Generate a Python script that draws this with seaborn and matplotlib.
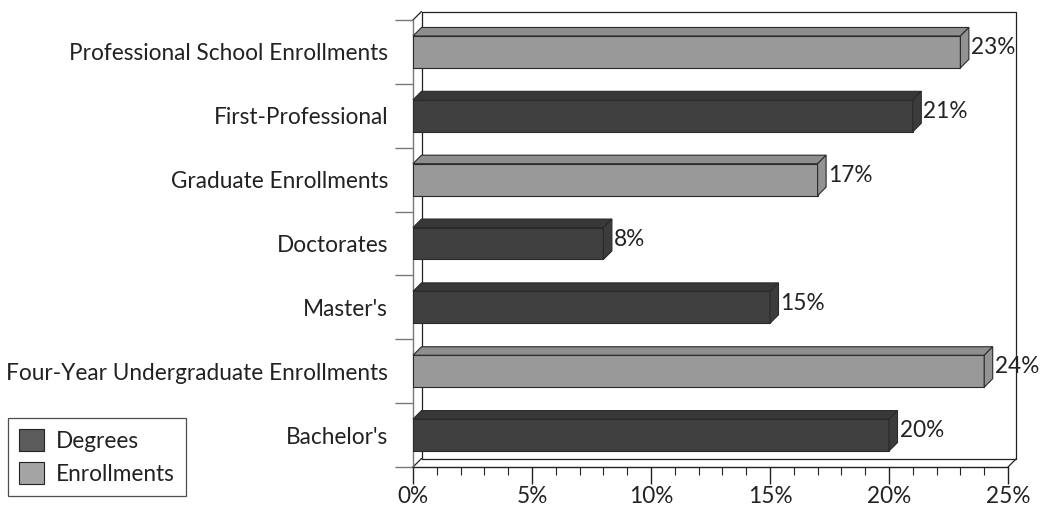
import matplotlib
matplotlib.use("Agg")
import matplotlib.pyplot as plt
from matplotlib.patches import Polygon, Patch
from matplotlib.ticker import MultipleLocator, FuncFormatter
import seaborn as sns
import pandas as pd

categories = ["Professional School Enrollments", "First-Professional", "Graduate Enrollments",
              "Doctorates", "Master's", "Four-Year Undergraduate Enrollments", "Bachelor's"]
values = [23, 21, 17, 8, 15, 24, 20]
kinds = ["Enrollments", "Degrees", "Enrollments", "Degrees", "Degrees", "Enrollments", "Degrees"]
legend_labels = ["Degrees", "Enrollments"]
x_ticks = [0, 5, 10, 15, 20, 25]

front = {"Degrees": "#404040", "Enrollments": "#999999"}
top_c = {"Degrees": "#383838", "Enrollments": "#8e8e8e"}
side_c = {"Degrees": "#3c3c3c", "Enrollments": "#939393"}
legend_c = {"Degrees": "#5c5c5c", "Enrollments": "#a4a4a4"}

sns.set_theme(style="white")
plt.rcParams["font.family"] = ["Lato", "DejaVu Sans"]
FS = 16.3

W, H = 1041, 508
fig = plt.figure(figsize=(W / 100, H / 100), dpi=100)
L, R, B, T = 413 / W, 1008 / W, 1 - 467 / H, 1 - 20 / H
ax = fig.add_axes([L, B, R - L, T - B])

df = pd.DataFrame({"cat": categories, "val": values, "kind": kinds})
sns.barplot(data=df, x="val", y="cat", hue="kind", order=categories, palette=front,
            dodge=False, width=0.5, edgecolor="#2a2a2a", linewidth=0.8, saturation=1,
            legend=False, ax=ax, zorder=3)

xmax = 25
n = len(categories)
ax.set_xlim(0, xmax)
ax.set_ylim(n - 0.5, -0.5)

ax_w = (R - L) * W
ax_h = (T - B) * H
dpx = 8.5
dx = dpx * xmax / ax_w
dy = dpx * n / ax_h

kind_of = dict(zip(categories, kinds))
bars = [p for p in ax.patches if p.get_width() > 0]
for p in bars:
    x0 = p.get_x()
    x1 = x0 + p.get_width()
    yt = p.get_y()
    yb = yt + p.get_height()
    ci = int(round(yt + p.get_height() / 2))
    k = kind_of[categories[ci]]
    ax.add_patch(Polygon([(x0, yt), (x1, yt), (x1 + dx, yt - dy), (x0 + dx, yt - dy)],
                         closed=True, facecolor=top_c[k], edgecolor="#2a2a2a", lw=0.8,
                         zorder=3, clip_on=False))
    ax.add_patch(Polygon([(x1, yt), (x1 + dx, yt - dy), (x1 + dx, yb - dy), (x1, yb)],
                         closed=True, facecolor=side_c[k], edgecolor="#2a2a2a", lw=0.8,
                         zorder=3, clip_on=False))
    ax.annotate(f"{p.get_width():.0f}%", xy=(x1 + dx, (yt + yb) / 2 - dy / 2),
                xytext=(1.5, 0), textcoords="offset points", ha="left", va="center",
                fontsize=FS, color="#222222", zorder=4)

# back wall
lk = dict(color="#222222", lw=0.9, clip_on=False, zorder=1)
ytop, ybot = -0.5, n - 0.5
ax.plot([dx, dx, xmax + dx, xmax + dx, dx], [ybot - dy, ytop - dy, ytop - dy, ybot - dy, ybot - dy], **lk)
ax.plot([0, dx], [ytop, ytop - dy], **lk)
ax.plot([0, dx], [ybot, ybot - dy], **lk)
ax.plot([xmax, xmax + dx], [ybot, ybot - dy], **lk)

for s in ["top", "right"]:
    ax.spines[s].set_visible(False)
ax.spines["left"].set_color("#777777")
ax.spines["left"].set_linewidth(1.0)
ax.spines["bottom"].set_color("#222222")
ax.spines["bottom"].set_linewidth(1.0)

ax.set_xticks(x_ticks)
ax.xaxis.set_major_formatter(FuncFormatter(lambda v, _: f"{v:.0f}%"))
ax.xaxis.set_minor_locator(MultipleLocator(1))
ax.tick_params(axis="x", which="major", direction="out", length=12, width=1, color="#222222",
               bottom=True, labelsize=FS, pad=2, labelcolor="#222222")
ax.tick_params(axis="x", which="minor", direction="out", length=6, width=0.8, color="#222222", bottom=True)

ax.set_yticks(range(n))
ax.set_yticklabels(categories)
ax.set_yticks([i - 0.5 for i in range(n + 1)], minor=True)
ax.tick_params(axis="y", which="major", length=0, pad=18, labelsize=FS, labelcolor="#222222", left=True)
ax.tick_params(axis="y", which="minor", direction="out", length=13, width=1, color="#777777", left=True)

ax.set_xlabel("")
ax.set_ylabel("")
ax.grid(False)

handles = [Patch(facecolor=legend_c[k], edgecolor="#222222", lw=0.8, label=k) for k in legend_labels]
leg = fig.legend(handles=handles, loc="lower left", bbox_to_anchor=(8 / W, 1 - 496 / H),
                 frameon=True, fancybox=False, edgecolor="#222222", fontsize=FS,
                 handlelength=1.1, handleheight=1.1, handletextpad=0.5, borderpad=0.5,
                 labelspacing=0.45, borderaxespad=0)
leg.get_frame().set_linewidth(0.9)
for t in leg.get_texts():
    t.set_color("#222222")

fig.savefig("out.png", dpi=100)
